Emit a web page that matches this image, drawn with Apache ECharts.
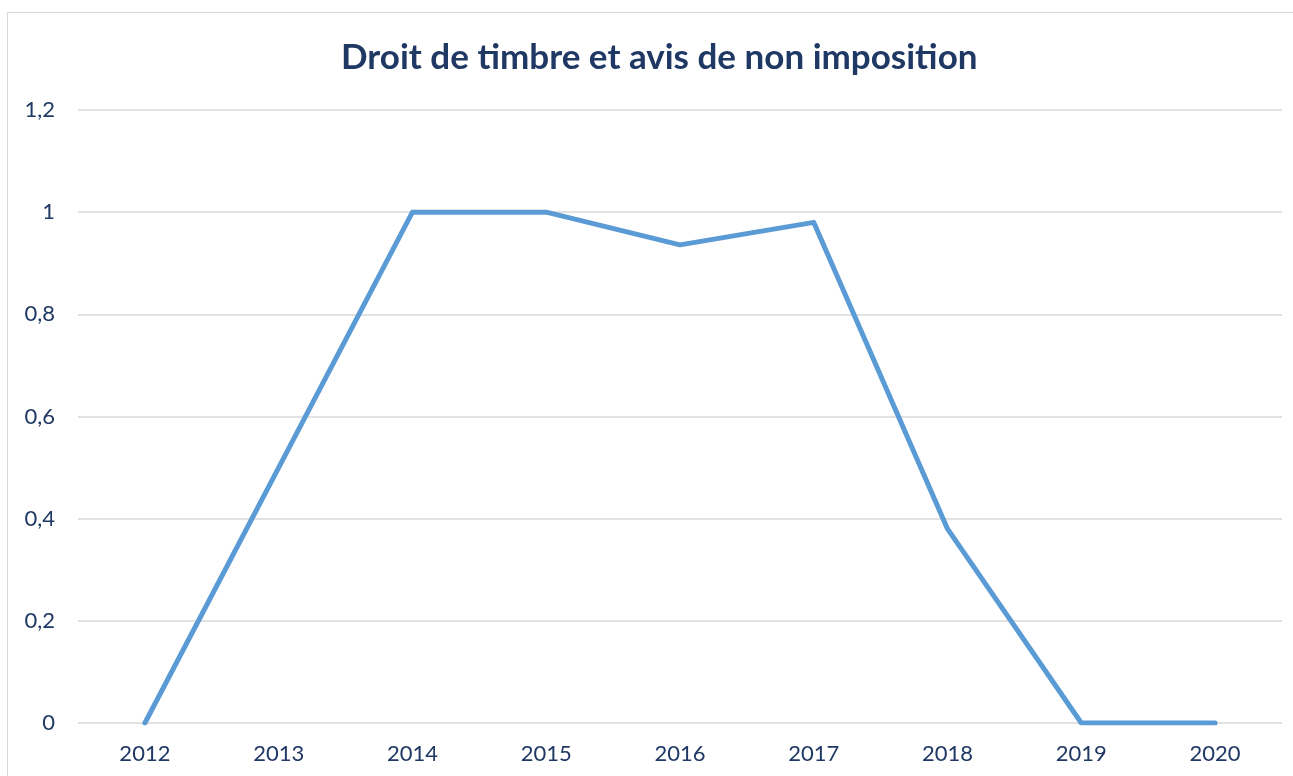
<!DOCTYPE html>
<html>
<head>
<meta charset="utf-8">
<script src="https://cdn.jsdelivr.net/npm/echarts@6/dist/echarts.min.js"></script>
<style>
html,body{margin:0;padding:0;background:#fff;overflow:hidden;}
#frame{position:absolute;left:7px;top:12px;width:1320px;height:800px;border:1px solid #d9d9d9;}
#chart{position:absolute;left:0;top:0;width:1293px;height:776px;}
</style>
</head>
<body>
<div id="frame"></div>
<div id="chart"></div>
<script>
var years = ['2012','2013','2014','2015','2016','2017','2018','2019','2020'];
var values = [0, 0.5, 1, 1, 0.936, 0.98, 0.38, 0, 0];

var chart = echarts.init(document.getElementById('chart'));
var txt = '#1f3864';
option = {
    backgroundColor: 'transparent',
    title: {
        text: 'Droit de timbre et avis de non imposition',
        left: 336,
        top: 35,
        textStyle: {
            fontFamily: 'Lato',
            fontWeight: 'bold',
            fontSize: 35,
            color: txt
        }
    },
    grid: {
        left: 78,
        right: 11,
        top: 110,
        bottom: 53
    },
    xAxis: {
        type: 'category',
        data: years,
        boundaryGap: true,
        axisLine: {show: false},
        axisTick: {show: false},
        axisLabel: {
            margin: 20,
            fontFamily: 'Lato',
            fontSize: 22,
            color: txt
        }
    },
    yAxis: {
        type: 'value',
        min: 0,
        max: 1.2,
        interval: 0.2,
        axisLine: {show: false},
        axisTick: {show: false},
        splitLine: {lineStyle: {color: '#d9d9d9', width: 1.5}},
        axisLabel: {
            margin: 23,
            fontFamily: 'Lato',
            fontSize: 22,
            color: txt,
            formatter: function (v) {  // virgule décimale
                return (Math.round(v * 10) / 10).toString().replace('.', ',');
            }
        }
    },
    series: [
        {
            type: 'line',
            data: values,
            symbol: 'none',
            lineStyle: {color: '#5b9bd5', width: 5, cap: 'round', join: 'round'},
            animation: false
        }
    ]
};
chart.setOption(option);
</script>
</body>
</html>
